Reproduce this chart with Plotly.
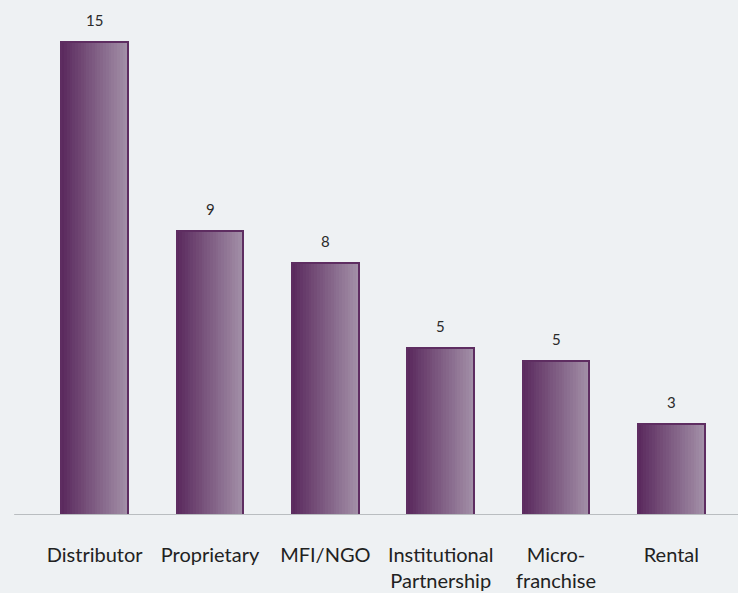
import plotly.graph_objects as go

categories = ["Distributor", "Proprietary", "MFI/NGO", "Institutional<br>Partnership", "Micro-<br>franchise", "Rental"]
values = [15, 9, 8, 5.3, 4.9, 2.9]
value_labels = ["15", "9", "8", "5", "5", "3"]

BAR_W = 0.58
N = 24
c0 = (0x5b, 0x2a, 0x5e)
c1 = (0xa2, 0x8f, 0xa7)

fig = go.Figure()
for i in range(N):
    t = i / (N - 1)
    col = "rgb(%d,%d,%d)" % tuple(round(a + (b - a) * t) for a, b in zip(c0, c1))
    fig.add_trace(go.Bar(
        x=categories, y=values,
        width=BAR_W / N + 0.002, offset=-BAR_W / 2 + i * BAR_W / N,
        marker=dict(color=col, line=dict(width=0)),
        hoverinfo="skip", showlegend=False,
    ))
fig.add_trace(go.Bar(
    x=categories, y=values, width=BAR_W, offset=-BAR_W / 2,
    marker=dict(color="rgba(0,0,0,0)", line=dict(color="#5e2d61", width=2)),
    showlegend=False,
))

for c, v, lab in zip(categories, values, value_labels):
    fig.add_annotation(x=c, y=v, text=lab, showarrow=False, yanchor="bottom",
                       yshift=11, font=dict(family="Lato", size=15, color="#2a2a2a"))

fig.add_shape(type="line", xref="paper", yref="y", x0=-0.033, x1=1.02, y0=0, y1=0,
              line=dict(color="#b9bdc0", width=2))

fig.update_layout(
    width=738, height=593,
    margin=dict(l=37, r=9, t=10, b=78),
    paper_bgcolor="#eef1f3", plot_bgcolor="#eef1f3",
    barmode="overlay", bargap=0,
    xaxis=dict(type="category", showgrid=False, showline=False, zeroline=False,
               ticks="", ticklabelstandoff=26, automargin=False,
               tickfont=dict(family="Lato", size=20, color="#222222")),
    yaxis=dict(range=[0, 16.02], visible=False, showgrid=False, zeroline=False,
               automargin=False),
    font=dict(family="Lato"),
)

fig.write_html("out.html", config={"displayModeBar": False},
               post_script="document.body.style.margin='0';document.body.style.background='#eef1f3';")
